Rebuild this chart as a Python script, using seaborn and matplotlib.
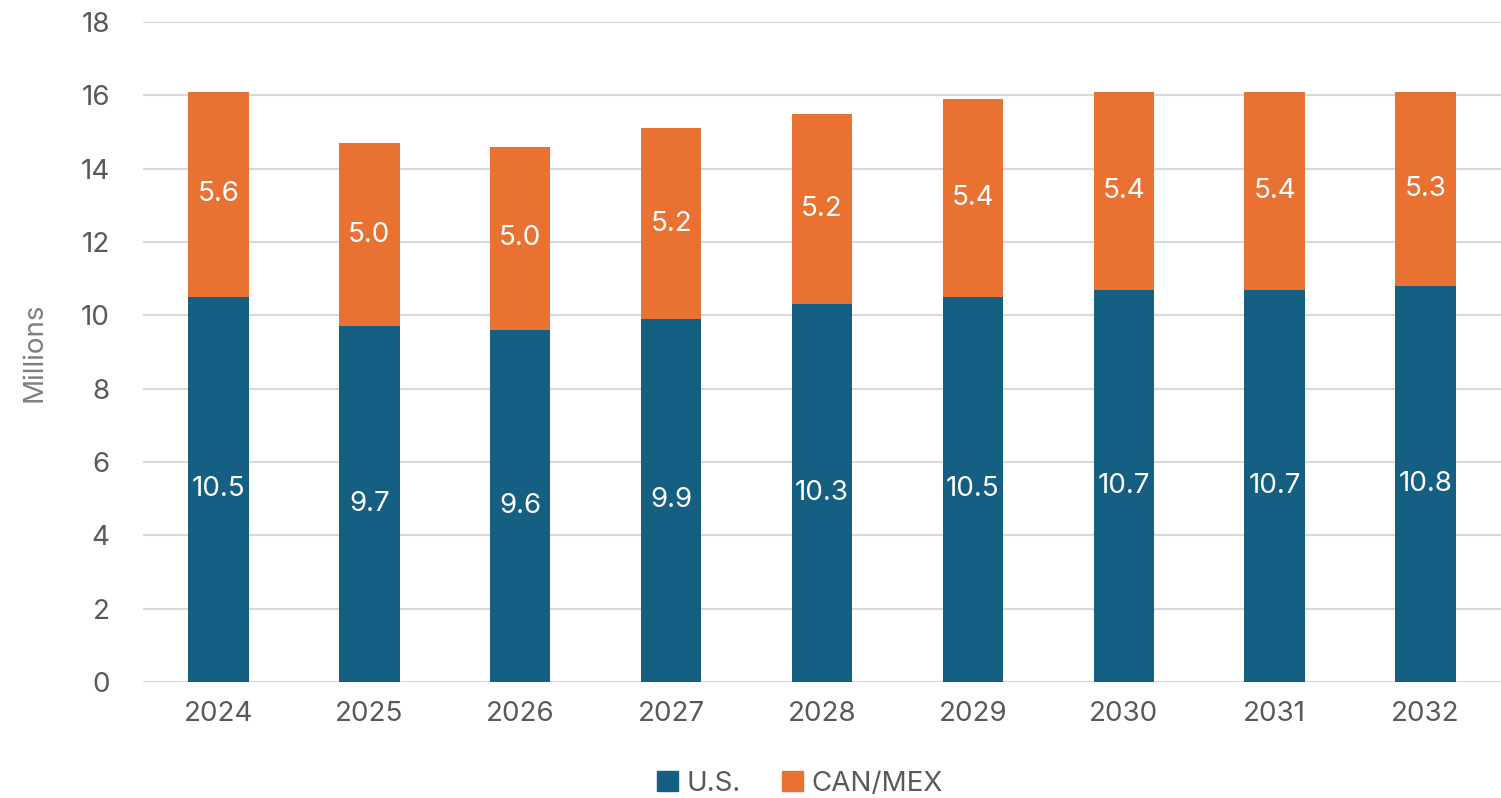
import matplotlib
matplotlib.use("Agg")
import matplotlib.pyplot as plt
import seaborn as sns
import pandas as pd
from matplotlib.patches import Patch

years = ["2024", "2025", "2026", "2027", "2028", "2029", "2030", "2031", "2032"]
us = [10.5, 9.7, 9.6, 9.9, 10.3, 10.5, 10.7, 10.7, 10.8]
canmex = [5.6, 5.0, 5.0, 5.2, 5.2, 5.4, 5.4, 5.4, 5.3]
yticks = [0, 2, 4, 6, 8, 10, 12, 14, 16, 18]

BLUE = "#156082"
ORANGE = "#E97132"
GRAY = "#595959"

sns.set_theme(style="white")
plt.rcParams['font.family'] = ['Inter', 'DejaVu Sans']

df = pd.DataFrame({"year": years, "us": us, "canmex": canmex})
df["total"] = df["us"] + df["canmex"]

fig = plt.figure(figsize=(15.01, 7.98), dpi=100)
ax = fig.add_axes([0.0953, 0.1454, 0.9047, 0.827])

sns.barplot(data=df, x="year", y="total", color=ORANGE, width=0.4, ax=ax,
            saturation=1, zorder=3, linewidth=0)
sns.barplot(data=df, x="year", y="us", color=BLUE, width=0.4, ax=ax,
            saturation=1, zorder=3, linewidth=0)

for i, (u, c) in enumerate(zip(us, canmex)):
    ax.text(i, u / 2, f"{u:.1f}", ha="center", va="center", color="white",
            fontsize=20, zorder=4)
    ax.text(i, u + c / 2, f"{c:.1f}", ha="center", va="center", color="white",
            fontsize=20, zorder=4)

ax.set_ylim(0, 18)
ax.set_yticks(yticks)
ax.set_xlim(-0.5, len(years) - 0.5)
ax.yaxis.grid(True, color="#D9D9D9", linewidth=1.5, zorder=0)
ax.xaxis.grid(False)
for s in ax.spines.values():
    s.set_visible(False)
ax.tick_params(axis="both", colors=GRAY, labelsize=20, length=0)
ax.tick_params(axis="y", pad=24)
ax.tick_params(axis="x", pad=14)
ax.set_xlabel("")
ax.set_ylabel("Millions", color="#7F7F7F", fontsize=20, labelpad=24)

handles = [Patch(color=BLUE, label="U.S."), Patch(color=ORANGE, label="CAN/MEX")]
leg = fig.legend(handles=handles, loc="center", bbox_to_anchor=(0.533, 0.018),
                 ncol=2, frameon=False, fontsize=20, handlelength=0.75,
                 handleheight=0.75, handletextpad=0.3, columnspacing=1.5)
for t in leg.get_texts():
    t.set_color(GRAY)

fig.savefig("out.png", dpi=100)
